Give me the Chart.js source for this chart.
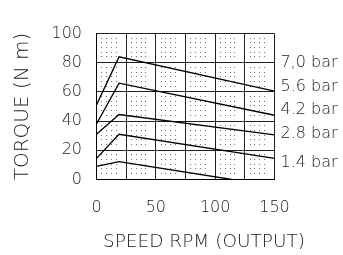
<!DOCTYPE html>
<html><head><meta charset="utf-8">
<script src="https://cdn.jsdelivr.net/npm/chart.js@4.4.1/dist/chart.umd.min.js"></script>
<style>html,body{margin:0;padding:0;background:#fff}#wrap{width:343px;height:255px;position:relative}</style>
</head><body><div id="wrap"><canvas id="c" width="343" height="255"></canvas></div>
<script>
// ---- data ----
const seriesLabels = ['7,0 bar', '5.6 bar', '4.2 bar', '2.8 bar', '1.4 bar'];
const rpm = [0, 19, 150];
const rpm14 = [0, 19, 114];
const torque70 = [51, 84, 60.5];
const torque56 = [38, 66, 44];
const torque42 = [31, 44.5, 30.5];
const torque28 = [14.5, 31, 14.5];
const torque14 = [9, 12.3, 0];
const xTickLabels = [0, 50, 100, 150];
const yTickLabels = [0, 20, 40, 60, 80, 100];
const xTitle = 'SPEED RPM (OUTPUT)';
const yTitle = 'TORQUE (N m)';

const FAMILY = "'DejaVu Sans', sans-serif";
const WEIGHT = 200;
const INK = '#1a1a1a';

function pts(xs, ys) { return xs.map((x, i) => ({ x: x, y: ys[i] })); }
const seriesX = [rpm, rpm, rpm, rpm, rpm14];
const seriesY = [torque70, torque56, torque42, torque28, torque14];
const datasets = seriesLabels.map((lab, i) => ({
  label: lab,
  data: pts(seriesX[i], seriesY[i]),
  borderColor: '#000', borderWidth: 1.3, pointRadius: 0, fill: false, tension: 0
}));

const dotPlugin = {
  id: 'dots',
  beforeDatasetsDraw(chart) {
    const { ctx } = chart; const xs = chart.scales.x, ys = chart.scales.y;
    const fx = [0.18, 0.34, 0.5, 0.66], fy = [0.16, 0.32, 0.48, 0.64, 0.8];
    ctx.save(); ctx.fillStyle = '#6e6e6e';
    for (let c = 0; c < 150; c += 25) {
      const x0 = xs.getPixelForValue(c), x1 = xs.getPixelForValue(c + 25);
      for (let r = 100; r > 0; r -= 20) {
        const y0 = ys.getPixelForValue(r), y1 = ys.getPixelForValue(r - 20);
        fx.forEach(a => fy.forEach(b => {
          ctx.fillRect(Math.floor(x0 + (x1 - x0) * a), Math.floor(y0 + (y1 - y0) * b), 1, 1);
        }));
      }
    }
    ctx.restore();
  }
};

const textPlugin = {
  id: 'texts',
  afterDraw(chart, args, opts) {
    const { ctx, chartArea } = chart; const ys = chart.scales.y;
    ctx.save(); ctx.fillStyle = INK;
    ctx.font = `${WEIGHT} 16px ${FAMILY}`;
    ctx.textAlign = 'left'; ctx.textBaseline = 'middle';
    seriesLabels.forEach((t, i) => ctx.fillText(t, chartArea.right + 6, ys.getPixelForValue(opts.levels[i])));
    ctx.font = `${WEIGHT} 18.5px ${FAMILY}`;
    ctx.textAlign = 'center';
    ctx.fillText(xTitle, (chartArea.left + chartArea.right) / 2 + 18.5, 242);
    ctx.restore();
  }
};

new Chart(document.getElementById('c'), {
  type: 'line',
  data: { datasets },
  plugins: [dotPlugin, textPlugin],
  options: {
    responsive: false, animation: false,
    layout: { padding: { left: 0, top: 33.5, right: 68.5, bottom: 0 } },
    plugins: { legend: { display: false }, tooltip: { enabled: false },
      texts: { levels: [80, 63.5, 48, 31.4, 11.5] } },
    scales: {
      x: {
        type: 'linear', min: 0, max: 150,
        afterFit(s) { s.height = 75.5; },
        afterBuildTicks(s) { s.ticks = [0, 25, 50, 75, 100, 125, 150].map(v => ({ value: v })); },
        ticks: { autoSkip: false, maxRotation: 0, padding: 19, color: INK,
          font: { family: FAMILY, size: 16, weight: WEIGHT },
          callback: v => xTickLabels.includes(v) ? String(v) : '' },
        grid: { color: '#222', lineWidth: 1, drawTicks: false },
        border: { display: true, color: '#000', width: 1 }
      },
      y: {
        type: 'linear', min: 0, max: 100,
        afterFit(s) { s.width = 96.5; },
        afterBuildTicks(s) { s.ticks = yTickLabels.map(v => ({ value: v })); },
        ticks: { autoSkip: false, padding: 14.5, color: INK,
          font: { family: FAMILY, size: 16, weight: WEIGHT } },
        grid: { color: '#222', lineWidth: 1, drawTicks: false },
        border: { display: true, color: '#000', width: 1 },
        title: { display: true, text: yTitle, color: INK, padding: { top: 11, bottom: 0 },
          font: { family: FAMILY, size: 20, weight: WEIGHT } }
      }
    }
  }
});
</script></body></html>
